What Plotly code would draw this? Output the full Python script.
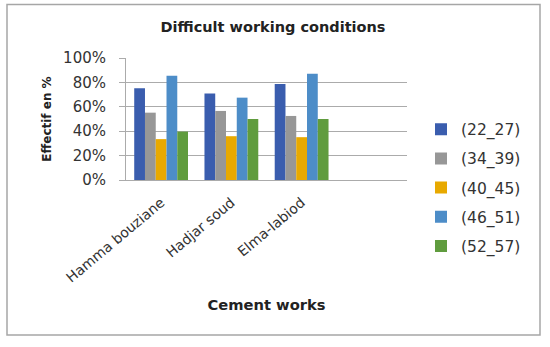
import plotly.graph_objects as go

# ---- data ----
sites = ["Hamma bouziane", "Hadjar soud", "Elma-labiod"]
age_groups = ["(22_27)", "(34_39)", "(40_45)", "(46_51)", "(52_57)"]
v_22_27 = [0.753, 0.710, 0.786]
v_34_39 = [0.552, 0.566, 0.525]
v_40_45 = [0.335, 0.359, 0.351]
v_46_51 = [0.854, 0.675, 0.871]
v_52_57 = [0.397, 0.500, 0.500]
y_ticks = [0, 0.2, 0.4, 0.6, 0.8, 1.0]

series = [v_22_27, v_34_39, v_40_45, v_46_51, v_52_57]
colors = ["#3A5DAE", "#979797", "#E8A900", "#4D8DC8", "#609C3E"]

W, H = 550, 347
L, R, T, B = 126, 143, 58, 167
pw, ph = W - L - R, H - T - B

x_pos = list(range(len(sites)))

fig = go.Figure()
for name, vals, col in zip(age_groups, series, colors):
    fig.add_trace(go.Bar(
        x=x_pos, y=vals, name=name, legendgroup=name,
        marker=dict(color=col, line=dict(width=0)),
    ))

def px_x(p):
    return (p - L) / pw

def px_y(p):
    return (H - B - p) / ph

grid = "#ABABAB"
fig.add_shape(type="rect", xref="paper", yref="paper",
              x0=px_x(7), x1=px_x(540), y0=px_y(335), y1=px_y(4.5),
              line=dict(color="#A6A6A6", width=1.5), layer="below")

fig.update_layout(
    width=W, height=H,
    margin=dict(l=L, r=R, t=T, b=B, pad=0),
    paper_bgcolor="white", plot_bgcolor="white",
    barmode="group", bargap=0.234, bargroupgap=0,
    font=dict(family="DejaVu Sans", color="#333333"),
    title=dict(text="<b>Difficult working conditions</b>",
               font=dict(family="DejaVu Sans", size=14.5, color="#222222"),
               x=273 / W, xanchor="center", xref="container",
               y=1 - 27.3 / H, yanchor="middle", yref="container"),
    xaxis=dict(range=[-0.5, 3.5], tickvals=x_pos, ticktext=sites,
               tickangle=-40, tickfont=dict(size=14, color="#333333"),
               showline=True, linecolor=grid, linewidth=1,
               showgrid=False, ticks="", zeroline=False,
               ticklabelstandoff=8,
               title=dict(text="<b>Cement works</b>",
                          font=dict(size=14.7, color="#222222"), standoff=15)),
    yaxis=dict(range=[0, 1], tickvals=y_ticks, tickformat=".0%",
               tickfont=dict(size=15, color="#333333"),
               showline=True, linecolor=grid, linewidth=1,
               showgrid=True, gridcolor=grid, gridwidth=1,
               ticks="outside", ticklen=6, tickcolor=grid,
               ticklabelstandoff=10, zeroline=False,
               title=dict(text="<b>Effectif en %</b>",
                          font=dict(size=12, color="#222222"), standoff=8)),
    legend=dict(x=px_x(421), xanchor="left", y=px_y(187.7), yanchor="middle",
                font=dict(size=15.5, color="#333333"),
                tracegroupgap=6, bgcolor="rgba(0,0,0,0)"),
    showlegend=True,
)

fig.write_html("out.html",
               config={"displayModeBar": False},
               post_script="document.body.style.margin='0';")
